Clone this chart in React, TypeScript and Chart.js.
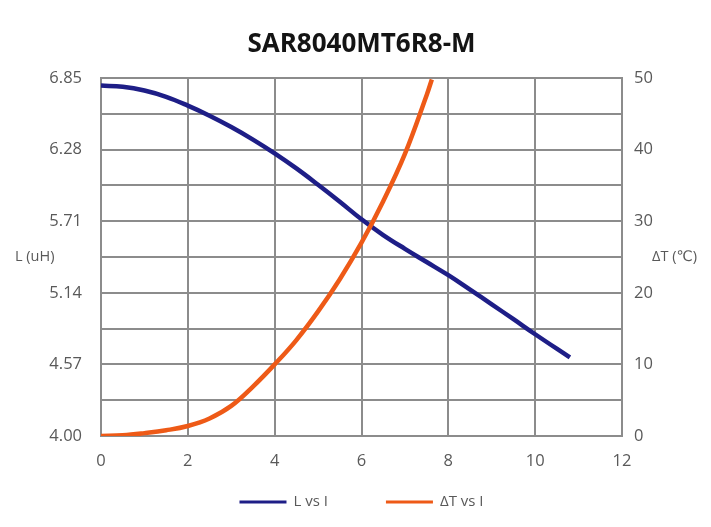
import React, { useEffect, useRef } from "react";
import { Chart, registerables } from "chart.js";

Chart.register(...registerables);

// ---- data ----
const titleText = "SAR8040MT6R8-M";
const leftAxisLabel = "L (uH)";
const rightAxisLabel = "ΔT (℃)";
const lSeriesLabel = "L vs I";
const tSeriesLabel = "ΔT vs I";

const xTicks = [0, 2, 4, 6, 8, 10, 12];
const leftTicks = [4.0, 4.57, 5.14, 5.71, 6.28, 6.85];
const rightTicks = [0, 10, 20, 30, 40, 50];

const lCurrent = [0, 0.5, 1, 1.5, 2, 2.5, 3, 3.5, 4, 4.5, 5, 5.5, 6, 6.5, 7, 7.5, 8, 8.5, 9, 9.5, 10, 10.8];
const lValues = [6.79, 6.78, 6.75, 6.7, 6.63, 6.55, 6.46, 6.36, 6.25, 6.13, 6.0, 5.865, 5.725, 5.6, 5.49, 5.385, 5.28, 5.165, 5.048, 4.93, 4.81, 4.625];

const tCurrent = [0, 0.5, 1, 1.5, 2, 2.5, 3, 3.5, 4, 4.5, 5, 5.5, 6, 6.5, 7, 7.5, 7.62];
const tValues = [0, 0.1, 0.4, 0.8, 1.4, 2.45, 4.2, 6.9, 10.0, 13.4, 17.4, 21.9, 27.0, 32.8, 39.4, 47.6, 49.8];

// ---- styles ----
const FONT = '"Open Sans", "DejaVu Sans", sans-serif';
const GRID = "#8c8c8c";
const TEXT = "#595959";
const BLUE = "#1e1e87";
const ORANGE = "#ee5a17";

const decorPlugin = {
  id: "decor",
  afterDraw(chart: any) {
    const { ctx, chartArea } = chart;
    const cx = (chartArea.left + chartArea.right) / 2;
    const midY = (chartArea.top + chartArea.bottom) / 2;
    ctx.save();
    // title
    ctx.font = `bold 26px ${FONT}`;
    ctx.fillStyle = "#141414";
    ctx.textAlign = "center";
    ctx.textBaseline = "middle";
    ctx.fillText(titleText, cx, 45);
    // axis titles (horizontal)
    ctx.font = `14.5px ${FONT}`;
    ctx.fillStyle = TEXT;
    ctx.textAlign = "left";
    ctx.fillText(leftAxisLabel, 15, midY);
    ctx.fillText(rightAxisLabel, chart.width - 59, midY);
    // legend
    ctx.font = `15px ${FONT}`;
    const boxW = 47;
    const gap = 7;
    const itemGap = 58;
    const items = chart.data.datasets.map((d: any) => ({
      label: d.label,
      color: d.borderColor,
      w: ctx.measureText(d.label).width,
    }));
    const total =
      items.reduce((s: number, it: any) => s + boxW + gap + it.w, 0) +
      itemGap * (items.length - 1);
    let x = cx - total / 2;
    const ly = 502;
    items.forEach((it: any) => {
      ctx.fillStyle = it.color;
      ctx.fillRect(x, ly - 1.5, boxW, 3);
      ctx.fillStyle = TEXT;
      ctx.fillText(it.label, x + boxW + gap, ly);
      x += boxW + gap + it.w + itemGap;
    });
    ctx.restore();
  },
};

export default function App() {
  const ref = useRef<HTMLCanvasElement | null>(null);

  useEffect(() => {
    if (!ref.current) return;
    const chart = new Chart(ref.current, {
      type: "line",
      data: {
        datasets: [
          {
            label: lSeriesLabel,
            data: lCurrent.map((x, i) => ({ x, y: lValues[i] })),
            borderColor: BLUE,
            backgroundColor: BLUE,
            borderWidth: 4.5,
            pointRadius: 0,
            tension: 0.4,
            yAxisID: "yL",
            order: 1,
          },
          {
            label: tSeriesLabel,
            data: tCurrent.map((x, i) => ({ x, y: tValues[i] })),
            borderColor: ORANGE,
            backgroundColor: ORANGE,
            borderWidth: 4.5,
            pointRadius: 0,
            tension: 0.4,
            yAxisID: "yR",
            order: 0,
          },
        ],
      },
      options: {
        responsive: false,
        animation: false,
        layout: { padding: { top: 78, bottom: 50, left: 0, right: 0 } },
        plugins: {
          legend: { display: false },
          title: { display: false },
          tooltip: { enabled: false },
        },
        scales: {
          x: {
            type: "linear",
            min: 0,
            max: 12,
            afterBuildTicks: (s: any) => {
              s.ticks = xTicks.map((v) => ({ value: v }));
            },
            afterFit: (s: any) => {
              s.height = 41;
            },
            grid: { color: GRID, lineWidth: 2, drawTicks: false },
            border: { color: GRID, width: 2 },
            ticks: {
              padding: 15,
              color: TEXT,
              font: { family: FONT, size: 16.5 },
              maxRotation: 0,
              autoSkip: false,
            },
          },
          yL: {
            type: "linear",
            position: "left",
            min: leftTicks[0],
            max: leftTicks[leftTicks.length - 1],
            afterBuildTicks: (s: any) => {
              s.ticks = leftTicks.map((v) => ({ value: v }));
            },
            afterFit: (s: any) => {
              s.width = 101;
            },
            grid: { display: false, drawTicks: false },
            border: { color: GRID, width: 2 },
            ticks: {
              padding: 19,
              color: TEXT,
              font: { family: FONT, size: 16.5 },
              autoSkip: false,
              callback: (v: any) => Number(v).toFixed(2),
            },
          },
          yR: {
            type: "linear",
            position: "right",
            min: rightTicks[0],
            max: rightTicks[rightTicks.length - 1],
            afterBuildTicks: (s: any) => {
              const t: any[] = [];
              rightTicks.forEach((v, i) => {
                t.push({ value: v });
                if (i < rightTicks.length - 1) t.push({ value: (v + rightTicks[i + 1]) / 2 });
              });
              s.ticks = t;
            },
            afterFit: (s: any) => {
              s.width = 89;
            },
            grid: { color: GRID, lineWidth: 2, drawTicks: false },
            border: { color: GRID, width: 2 },
            ticks: {
              padding: 12,
              color: TEXT,
              font: { family: FONT, size: 16.5 },
              autoSkip: false,
              callback: (v: any) => (rightTicks.includes(Number(v)) ? String(v) : ""),
            },
          },
        },
      },
      plugins: [decorPlugin],
    } as any);
    return () => chart.destroy();
  }, []);

  return (
    <div style={{ position: "fixed", left: 0, top: 0, width: 711, height: 527, background: "#fff" }}>
      <canvas ref={ref} width={711} height={527} />
    </div>
  );
}
